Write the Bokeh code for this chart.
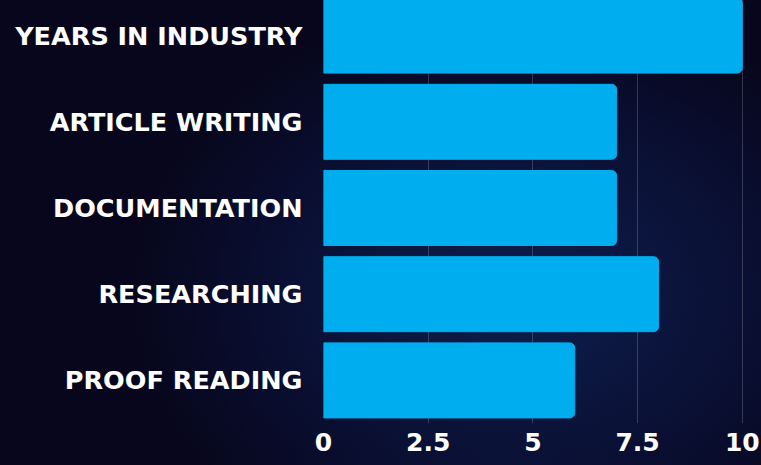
from bokeh.plotting import figure
from bokeh.models import Range1d, FactorRange
from bokeh.embed import file_html
from bokeh.resources import INLINE

# ---- data ----
skills = ["YEARS IN INDUSTRY", "ARTICLE WRITING", "DOCUMENTATION", "RESEARCHING", "PROOF READING"]
scores = [10, 7, 7, 8, 6]
tick_values = [0, 2.5, 5, 7.5, 10]

BAR = "#00aeef"
FONT = "DejaVu Sans"

p = figure(
    width=761, height=473,
    y_range=FactorRange(factors=list(reversed(skills))),
    x_range=Range1d(0, 10.1),
    output_backend="svg", toolbar_location=None,
    min_border_left=323, min_border_right=15, min_border_top=0, min_border_bottom=42,
)
p.background_fill_color = None
p.border_fill_color = None
p.outline_line_color = None

p.hbar(y=skills, right=scores, left=0, height=0.87, color=BAR,
       border_radius=(0, 5, 5, 0))

# axes
p.xaxis.ticker = tick_values
p.xaxis.axis_line_color = None
p.xaxis.major_tick_line_color = None
p.xaxis.minor_tick_line_color = None
p.xaxis.major_label_text_color = "white"
p.xaxis.major_label_text_font = FONT
p.xaxis.major_label_text_font_style = "bold"
p.xaxis.major_label_text_font_size = "25px"
p.xaxis.major_label_standoff = 3

p.yaxis.axis_line_color = None
p.yaxis.major_tick_line_color = None
p.yaxis.minor_tick_line_color = None
p.yaxis.major_label_text_color = "white"
p.yaxis.major_label_text_font = FONT
p.yaxis.major_label_text_font_style = "bold"
p.yaxis.major_label_text_font_size = "25.5px"
p.yaxis.major_label_standoff = 15

p.ygrid.grid_line_color = None
p.xgrid.ticker = tick_values
p.xgrid.grid_line_color = "white"
p.xgrid.grid_line_alpha = 0.18
p.xgrid.grid_line_width = 1

html = file_html(p, INLINE)
style = ("<style>html,body{margin:0;padding:0;overflow:hidden;"
         "background:#07061c;"
         "background-image:radial-gradient(ellipse 60% 75% at 68% 65%, #0e1e4e 0%, #0a1034 50%, #07061c 85%);}"
         "body{margin-top:-8px;}</style>")
html = html.replace("</head>", style + "</head>", 1)
open("out.html", "w").write(html)
